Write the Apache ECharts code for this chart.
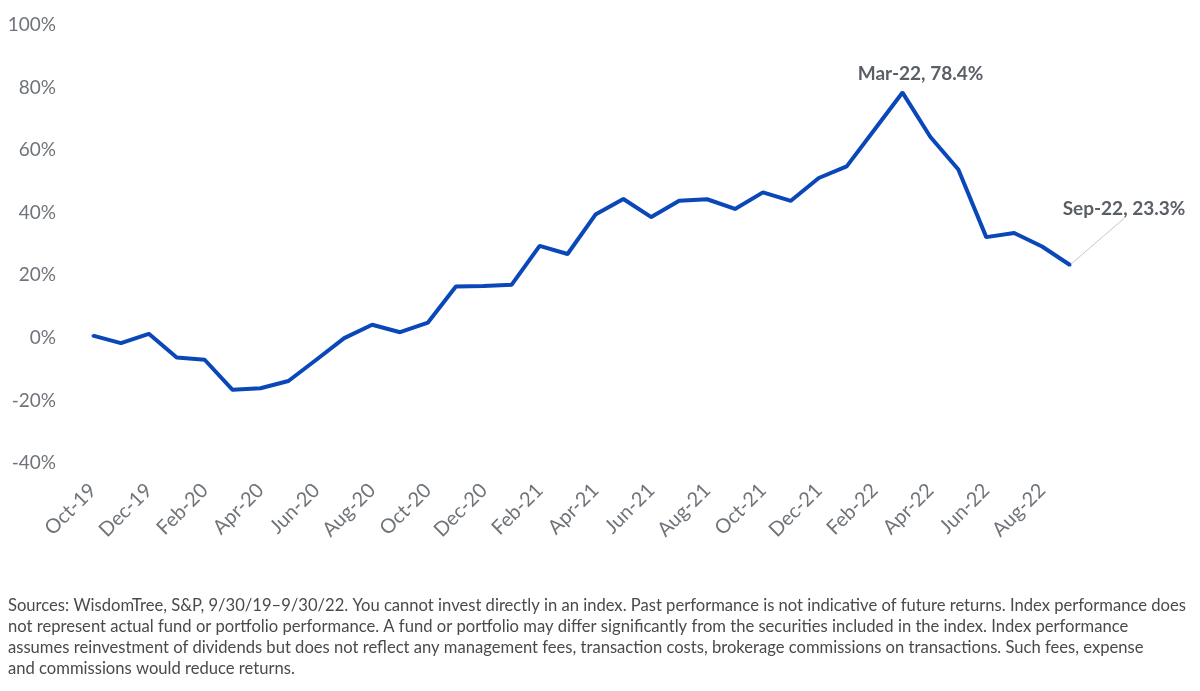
<!DOCTYPE html>
<html>
<head>
<meta charset="utf-8">
<script src="https://cdn.jsdelivr.net/npm/echarts@6/dist/echarts.min.js"></script>
<style>
  html, body { margin: 0; padding: 0; background: #fff; }
  #chart { width: 1200px; height: 691px; }
</style>
</head>
<body>
<div id="chart"></div>
<script>
// monthly cumulative return, Oct-19 .. Sep-22
const months = [
    "Oct-19", "Nov-19", "Dec-19", "Jan-20", "Feb-20", "Mar-20", "Apr-20", "May-20", "Jun-20",
    "Jul-20", "Aug-20", "Sep-20", "Oct-20", "Nov-20", "Dec-20", "Jan-21", "Feb-21", "Mar-21",
    "Apr-21", "May-21", "Jun-21", "Jul-21", "Aug-21", "Sep-21", "Oct-21", "Nov-21", "Dec-21",
    "Jan-22", "Feb-22", "Mar-22", "Apr-22", "May-22", "Jun-22", "Jul-22", "Aug-22", "Sep-22"
];
const returns = [
    0.7, -1.7, 1.3, -6.3, -7.0, -16.6, -16.1, -13.8, -7.0,
    -0.1, 4.2, 1.8, 4.9, 16.4, 16.6, 17.0, 29.4, 26.8,
    39.4, 44.4, 38.6, 43.8, 44.3, 41.2, 46.5, 43.8, 51.1,
    54.8, 66.6, 78.4, 64.2, 53.8, 32.2, 33.5, 29.2, 23.3
];
const peakIndex = 29;
const lastIndex = 35;

const footnote = [
    "Sources: WisdomTree, S&P, 9/30/19–9/30/22. You cannot invest directly in an index. Past performance is not indicative of future returns. Index performance does",
    "not represent actual fund or portfolio performance. A fund or portfolio may differ significantly from the securities included in the index. Index performance",
    "assumes reinvestment of dividends but does not reflect any management fees, transaction costs, brokerage commissions on transactions. Such fees, expense",
    "and commissions would reduce returns."
];

const FONT = "Lato, 'Noto Sans', sans-serif";
const LINE_COLOR = "#0a47b8";

const annoLabel = {
    show: true,
    fontFamily: FONT,
    fontSize: 19,
    fontWeight: "bold",
    color: "#5a5f66",
    formatter: p => months[p.dataIndex] + ", " + p.value.toFixed(1) + "%"
};

const seriesData = returns.map((v, i) => {
    if (i === peakIndex) {
        return { value: v, label: { ...annoLabel, position: "top", distance: 12 } };
    }
    if (i === lastIndex) {
        return {
            value: v,
            // transparent padded box so the leader line attaches under the text centre
            label: {
                ...annoLabel,
                position: "top",
                backgroundColor: "rgba(255,255,255,0)",
                padding: [0, 45, 0, 45]
            },
            labelLine: { show: true, lineStyle: { color: "#c8c8c8", width: 1 } }
        };
    }
    return v;
});

const chart = echarts.init(document.getElementById("chart"));

chart.setOption({
    backgroundColor: "#fff",
    animation: false,
    grid: { left: 93, right: 130, top: 25, bottom: 228 },

    xAxis: {
        type: "category",
        data: months,
        boundaryGap: false,
        axisLine: { show: false },
        axisTick: { show: false },
        axisLabel: {
            interval: 1,
            rotate: 45,
            margin: 24,
            fontFamily: FONT,
            fontSize: 20,
            color: "#6f747a"
        }
    },

    yAxis: {
        type: "value",
        min: -40,
        max: 100,
        interval: 20,
        axisLine: { show: false },
        axisTick: { show: false },
        splitLine: { show: false },
        axisLabel: {
            margin: 37,
            fontFamily: FONT,
            fontSize: 19,
            color: "#6f747a",
            formatter: "{value}%"
        }
    },

    series: [
        {
            type: "line",
            data: seriesData,
            showSymbol: true,
            symbol: "circle",
            symbolSize: 3,
            itemStyle: { color: LINE_COLOR },
            lineStyle: { color: LINE_COLOR, width: 4 },
            labelLayout: p => {
                if (p.dataIndex === lastIndex) return { dx: 54, dy: -40 };
                if (p.dataIndex === peakIndex) return { dx: 18, dy: 4 };
                return {};
            }
        }
    ],

    graphic: footnote.map((line, i) => ({
        type: "text",
        left: 8,
        top: 597 + i * 21,
        style: {
            text: line,
            fontFamily: FONT,
            fontSize: 16.6,
            fill: "#4a4a4a"
        }
    }))
});
</script>
</body>
</html>
